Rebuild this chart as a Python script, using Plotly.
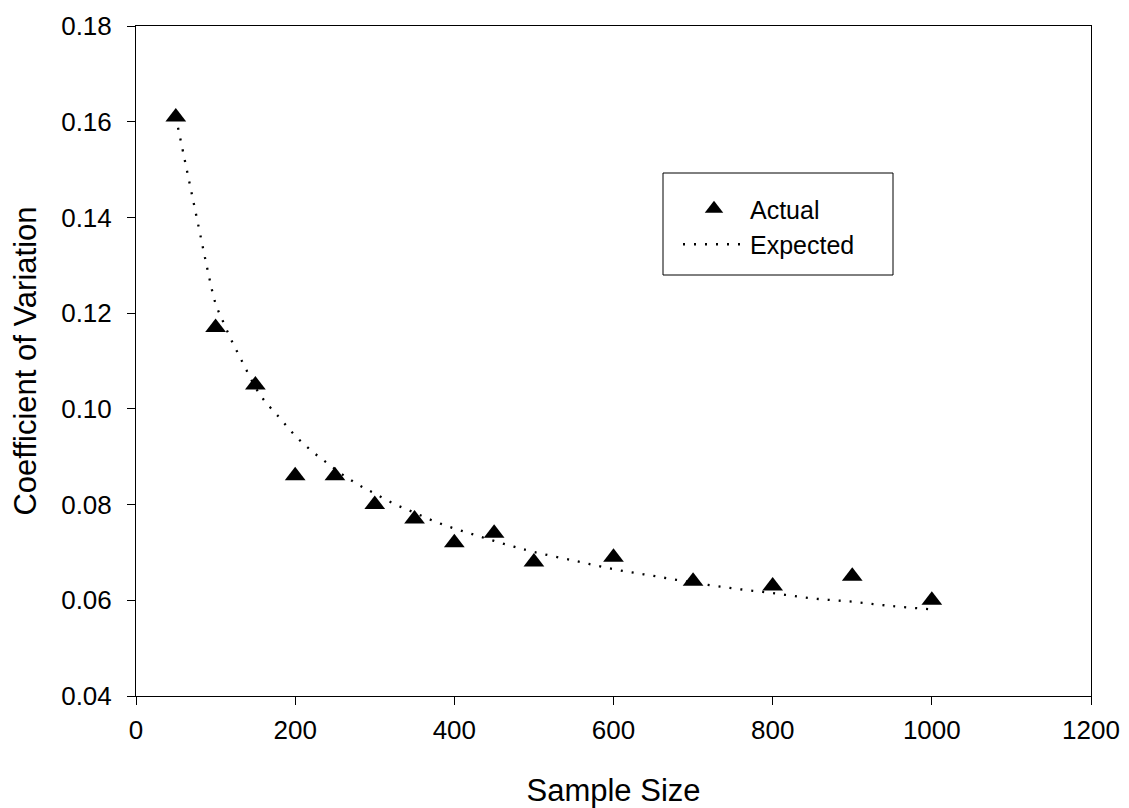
import plotly.graph_objects as go

# Actual measurements
sample_size = [50, 100, 150, 200, 250, 300, 350, 400, 450, 500, 600, 700, 800, 900, 1000]
cv_actual = [0.161, 0.117, 0.105, 0.086, 0.086, 0.080, 0.077, 0.072, 0.074, 0.068,
             0.069, 0.064, 0.063, 0.065, 0.060]

# Expected curve
n_expected = [50, 60, 70, 80, 90, 100, 110, 120, 130, 140, 150, 160, 180, 200, 220, 240,
              260, 280, 300, 325, 350, 375, 400, 425, 450, 475, 500, 550, 600, 650, 700,
              750, 800, 850, 900, 950, 1000]
cv_expected = [0.161, 0.153, 0.145, 0.137, 0.129, 0.122, 0.118, 0.1143, 0.111, 0.1077,
               0.1045, 0.1020, 0.0982, 0.0944, 0.0913, 0.0887, 0.0862, 0.0841, 0.0823,
               0.0801, 0.0783, 0.0765, 0.0750, 0.0737, 0.0724, 0.0712, 0.0701, 0.0683,
               0.0665, 0.0651, 0.0637, 0.0625, 0.0615, 0.0604, 0.0597, 0.0588, 0.0581]

x_ticks = [0, 200, 400, 600, 800, 1000, 1200]
y_ticks = [0.04, 0.06, 0.08, 0.10, 0.12, 0.14, 0.16, 0.18]

FONT = "Liberation Sans, Arial, sans-serif"

fig = go.Figure()
fig.add_trace(go.Scatter(
    x=sample_size, y=cv_actual, mode="markers", name="Actual",
    marker=dict(symbol="triangle-up", size=18, color="black", line=dict(width=0)),
))
fig.add_trace(go.Scatter(
    x=n_expected, y=cv_expected, mode="lines", name="Expected",
    line=dict(color="black", width=2.3, dash="2px,9px", shape="spline"),
))

axis_common = dict(
    showline=True, linecolor="black", linewidth=1, mirror=True,
    ticks="outside", ticklen=8, tickwidth=1, tickcolor="black",
    showgrid=False, zeroline=False,
    tickfont=dict(family=FONT, size=26, color="black"),
)

fig.update_xaxes(
    range=[0, 1200], tickvals=x_ticks, ticklabelstandoff=3,
    title=dict(text="Sample Size", font=dict(family=FONT, size=31, color="black"), standoff=35),
    **axis_common,
)
fig.update_yaxes(
    range=[0.04, 0.18], tickvals=y_ticks, tickformat=".2f", ticklabelstandoff=10,
    title=dict(text="Coefficient of Variation", font=dict(family=FONT, size=31, color="black"), standoff=18),
    **axis_common,
)

# legend frame
fig.add_shape(type="rect", xref="paper", yref="paper",
              x0=(663 - 136) / 955, x1=(893 - 136) / 955,
              y0=(696 - 275) / 670, y1=(696 - 173) / 670,
              line=dict(color="black", width=1), fillcolor="rgba(0,0,0,0)")

fig.update_layout(
    width=1121, height=800,
    margin=dict(l=128, r=38, t=18, b=112, autoexpand=False),
    paper_bgcolor="white", plot_bgcolor="white",
    font=dict(family=FONT, color="black"),
    showlegend=True,
    legend=dict(
        x=(678 - 136) / 955, y=(696 - 186) / 670, xanchor="left", yanchor="top",
        bgcolor="rgba(0,0,0,0)", borderwidth=0,
        font=dict(family=FONT, size=25, color="black"),
        itemwidth=62, tracegroupgap=0,
    ),
)

fig.write_html("out.html")
